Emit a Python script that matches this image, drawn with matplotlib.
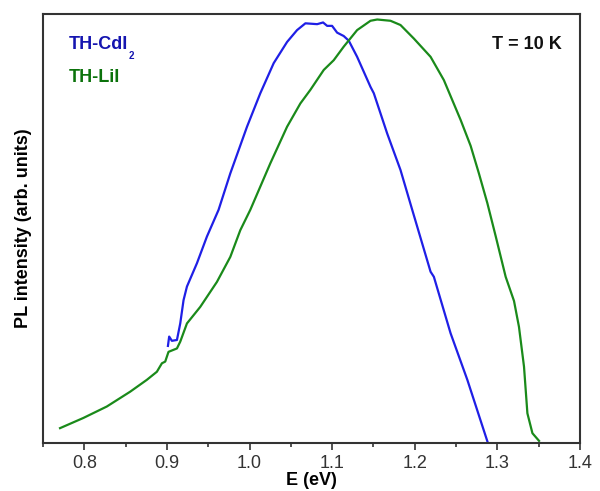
import numpy as np
import matplotlib.pyplot as plt

plt.rcParams['font.family'] = ['Liberation Sans', 'DejaVu Sans']

# TH-CdI2 photoluminescence spectrum (E in eV, intensity in arb. units)
E_cdi2 = [0.9012, 0.9027, 0.9060, 0.9121, 0.9161, 0.9201, 0.9242, 0.9363,
          0.9484, 0.9625, 0.9767, 0.9969, 1.0130, 1.0292, 1.0454, 1.0575,
          1.0676, 1.0818, 1.0890, 1.0939, 1.0999, 1.1060, 1.1140, 1.1201,
          1.1302, 1.1464, 1.1504, 1.1666, 1.1827, 1.1969, 1.2191, 1.2231,
          1.2433, 1.2636, 1.2885]
I_cdi2 = [0.229, 0.251, 0.241, 0.243, 0.282, 0.337, 0.369, 0.424,
          0.487, 0.550, 0.636, 0.746, 0.825, 0.896, 0.946, 0.974,
          0.990, 0.988, 0.992, 0.984, 0.984, 0.968, 0.960, 0.949,
          0.911, 0.840, 0.825, 0.730, 0.644, 0.550, 0.404, 0.392,
          0.259, 0.149, 0.0]

# TH-LiI photoluminescence spectrum
E_lii = [0.7706, 0.7988, 0.8272, 0.8555, 0.8757, 0.8878, 0.8939, 0.8979,
         0.9019, 0.9121, 0.9161, 0.9242, 0.9403, 0.9605, 0.9767, 0.9888,
         1.0009, 1.0252, 1.0454, 1.0615, 1.0736, 1.0898, 1.1019, 1.1140,
         1.1302, 1.1464, 1.1545, 1.1706, 1.1827, 1.1989, 1.2191, 1.2352,
         1.2555, 1.2676, 1.2776, 1.2878, 1.2979, 1.3100, 1.3201, 1.3261,
         1.3322, 1.3363, 1.3424, 1.3504]
I_lii = [0.035, 0.059, 0.086, 0.121, 0.149, 0.168, 0.188, 0.192,
         0.215, 0.223, 0.239, 0.282, 0.321, 0.380, 0.439, 0.502,
         0.550, 0.660, 0.746, 0.801, 0.833, 0.880, 0.903, 0.935,
         0.974, 0.996, 0.999, 0.996, 0.986, 0.954, 0.911, 0.856,
         0.762, 0.701, 0.636, 0.566, 0.488, 0.392, 0.335, 0.274,
         0.180, 0.070, 0.023, 0.005]

fig = plt.figure(figsize=(6.0, 4.91), dpi=100)
ax = fig.add_axes([0.0717, 0.0978, 0.895, 0.8737])

ax.plot(E_cdi2, I_cdi2, color="#1f1fe6", lw=1.6)
ax.plot(E_lii, I_lii, color="#1a8a1a", lw=1.6)

ax.set_xlim(0.75, 1.4)
ax.set_ylim(0, 1.012)
ax.set_xticks(np.arange(0.8, 1.41, 0.1))
ax.set_xticks(np.arange(0.75, 1.41, 0.05), minor=True)
ax.set_yticks([])
ax.tick_params(axis="x", which="major", direction="out", length=5, width=1.2,
               labelsize=13, colors="#333333", pad=4)
ax.tick_params(axis="x", which="minor", direction="out", length=3, width=1.2,
               colors="#333333")
for s in ax.spines.values():
    s.set_color("#333333")
    s.set_linewidth(1.5)

ax.set_xlabel("E (eV)", fontsize=13, fontweight="bold", labelpad=0)
ax.set_ylabel("PL intensity (arb. units)", fontsize=13, fontweight="bold", labelpad=8)

# series labels; subscript "2" placed right after the text
t = ax.text(0.048, 0.93, "TH-CdI", transform=ax.transAxes, fontsize=13,
            fontweight="bold", color="#1515b0", va="center")
ax.text(0.048, 0.852, "TH-LiI", transform=ax.transAxes, fontsize=13,
        fontweight="bold", color="#0b720b", va="center")
ax.text(0.966, 0.93, "T = 10 K", transform=ax.transAxes, fontsize=13,
        fontweight="bold", color="#111111", va="center", ha="right")

fig.canvas.draw()
bb = t.get_window_extent().transformed(ax.transAxes.inverted())
ax.text(bb.x1 + 0.002, 0.902, "2", transform=ax.transAxes, fontsize=7,
        fontweight="bold", color="#1515b0", va="center")

fig.savefig("out.png", dpi=100)
